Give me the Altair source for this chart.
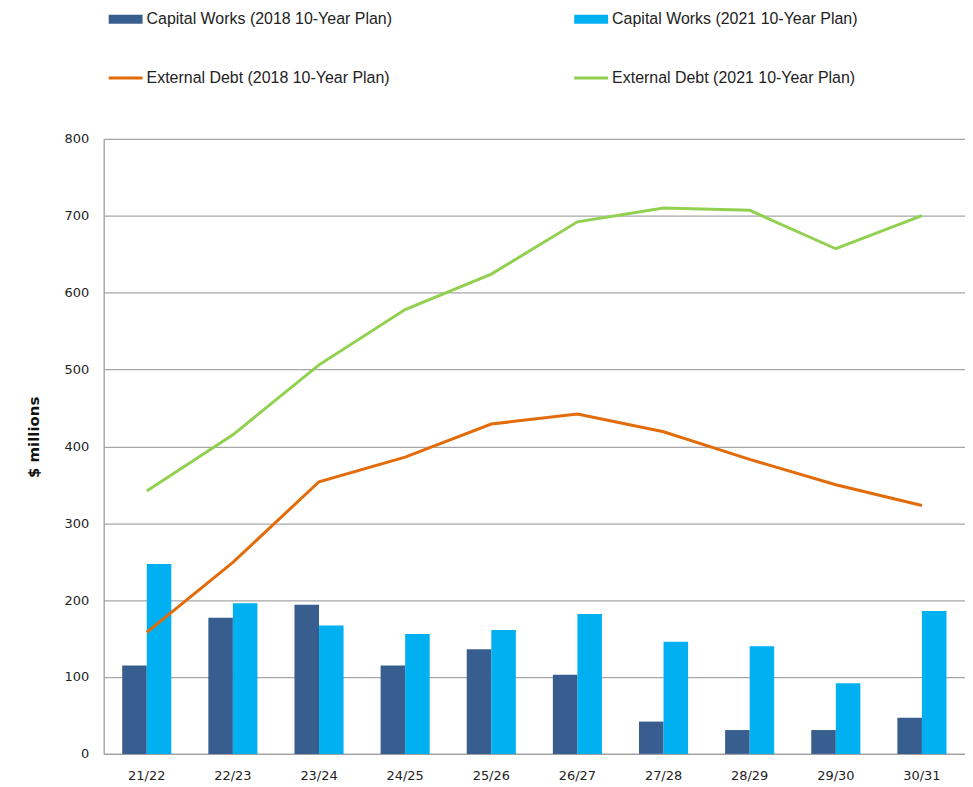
import altair as alt
import pandas as pd

years = ["21/22", "22/23", "23/24", "24/25", "25/26", "26/27", "27/28", "28/29", "29/30", "30/31"]
cw_2018 = [115, 177, 194, 115, 136, 103, 42, 31, 31, 47]
cw_2021 = [247, 196, 167, 156, 161, 182, 146, 140, 92, 186]
ed_2018 = [158, 249, 354, 386, 429, 442, 419, 383, 350, 323]
ed_2021 = [342, 415, 506, 578, 624, 692, 710, 707, 657, 700]

series_names = [
    "Capital Works (2018 10-Year Plan)",
    "Capital Works (2021 10-Year Plan)",
    "External Debt (2018 10-Year Plan)",
    "External Debt (2021 10-Year Plan)",
]
series_colors = ["#375E8F", "#00B0F0", "#E36C0A", "#92D050"]

bar_rows = []
for y, a, b in zip(years, cw_2018, cw_2021):
    bar_rows.append({"year": y, "series": series_names[0], "value": a})
    bar_rows.append({"year": y, "series": series_names[1], "value": b})
bars_df = pd.DataFrame(bar_rows)

line_rows = []
for y, a, b in zip(years, ed_2018, ed_2021):
    line_rows.append({"year": y, "series": series_names[2], "value": a})
    line_rows.append({"year": y, "series": series_names[3], "value": b})
lines_df = pd.DataFrame(line_rows)

# legend fills column by column
legend_order = [series_names[0], series_names[2], series_names[1], series_names[3]]
legend_df = pd.DataFrame({"key": legend_order})

bar_sym = "M-1,-0.265H1V0.265H-1Z"
line_sym = "M-1,-0.09H1V0.09H-1Z"

color_scale = alt.Scale(domain=series_names, range=series_colors)
legend_color_scale = alt.Scale(
    domain=legend_order,
    range=[series_colors[0], series_colors[2], series_colors[1], series_colors[3]],
)
shape_scale = alt.Scale(domain=legend_order, range=[bar_sym, line_sym, bar_sym, line_sym])

x_enc = alt.X(
    "year:N",
    sort=years,
    scale=alt.Scale(paddingInner=0.43, paddingOuter=0.215),
    axis=alt.Axis(
        title=None,
        labelAngle=0,
        labelFont="DejaVu Sans",
        labelFontSize=13,
        labelColor="#222222",
        labelPadding=16,
        ticks=False,
        domainColor="#A0A0A0",
        domainWidth=1.2,
    ),
)
y_enc = alt.Y(
    "value:Q",
    scale=alt.Scale(domain=[0, 800], nice=False),
    axis=alt.Axis(
        title="$ millions",
        values=[0, 100, 200, 300, 400, 500, 600, 700, 800],
        labelFont="DejaVu Sans",
        labelFontSize=13,
        labelColor="#222222",
        labelPadding=15,
        ticks=False,
        tickSize=0,
        grid=True,
        gridColor="#A6A6A6",
        gridWidth=1.2,
        domainColor="#A0A0A0",
        domainWidth=1.2,
        titleFont="DejaVu Sans",
        titleFontWeight="bold",
        titleFontSize=15,
        titleColor="#111111",
        titleX=-70,
        titleY=299,
        titleAlign="center",
        titleBaseline="middle",
    ),
)

legend_props = dict(
    title=None,
    orient="none",
    legendX=5,
    legendY=-137,
    columns=2,
    columnPadding=182,
    rowPadding=34,
    symbolSize=1156,
    symbolStrokeWidth=0,
    symbolOpacity=1,
    labelFont="Liberation Sans",
    labelFontSize=16,
    labelColor="#222222",
    labelOffset=4,
    padding=0,
    labelLimit=400,
)

bars = alt.Chart(bars_df).mark_bar().encode(
    x=x_enc,
    y=y_enc,
    xOffset=alt.XOffset("series:N", sort=series_names[:2], scale=alt.Scale(paddingInner=0)),
    color=alt.Color("series:N", scale=color_scale, legend=None),
)

lines = alt.Chart(lines_df).mark_line(strokeWidth=3).encode(
    x=x_enc,
    y=y_enc,
    color=alt.Color("series:N", scale=color_scale, legend=None),
)

legend_layer = alt.Chart(legend_df).mark_point(filled=True, opacity=0).encode(
    color=alt.Color("key:N", scale=legend_color_scale, legend=alt.Legend(**legend_props)),
    shape=alt.Shape("key:N", scale=shape_scale, legend=alt.Legend(**legend_props)),
)

chart = (
    alt.layer(bars, lines, legend_layer)
    .resolve_scale(color="independent", shape="independent")
    .properties(
        width=864,
        height=617,
        autosize=alt.AutoSizeParams(type="none"),
        padding={"left": 96, "top": 130, "right": 0, "bottom": 32},
    )
    .configure_view(stroke=None)
    .configure(background="white")
)

chart.save("out.html", embed_options={"renderer": "svg", "actions": False})
